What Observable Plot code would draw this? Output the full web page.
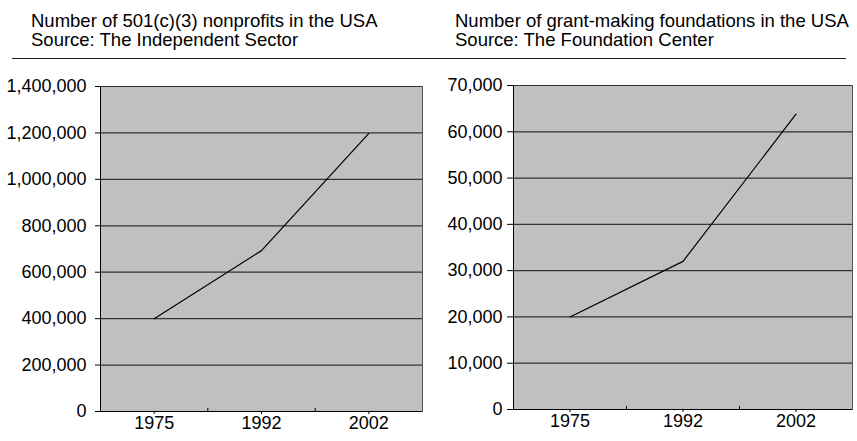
<!DOCTYPE html>
<html>
<head>
<meta charset="utf-8">
<script src="https://cdn.jsdelivr.net/npm/d3@7"></script>
<script src="https://cdn.jsdelivr.net/npm/@observablehq/plot@0.6"></script>
<style>
  html, body { margin: 0; padding: 0; background: #fff; }
  #wrap { position: relative; width: 857px; height: 441px; font-family: "Liberation Sans", Arial, sans-serif; color: #000; }
  .title { position: absolute; top: 10.5px; font-size: 18.5px; line-height: 19.5px; white-space: nowrap; }
  #rule { position: absolute; left: 12px; width: 834px; top: 58px; height: 0; border-top: 1px solid #222; }
  .chart { position: absolute; top: 70px; }
</style>
</head>
<body>
<div id="wrap">
  <div class="title" id="t1" style="left:31px"></div>
  <div class="title" id="t2" style="left:455px"></div>
  <div id="rule"></div>
  <div class="chart" id="c1" style="left:0px"></div>
  <div class="chart" id="c2" style="left:430px"></div>
</div>
<script>
// ---- data ----
const years = ["1975", "1992", "2002"];
const nonprofits = [400000, 693000, 1198000];
const foundations = [20000, 32000, 63800];
const nonprofitTicks = [0, 200000, 400000, 600000, 800000, 1000000, 1200000, 1400000];
const foundationTicks = [0, 10000, 20000, 30000, 40000, 50000, 60000, 70000];
const titles1 = ["Number of 501(c)(3) nonprofits in the USA", "Source: The Independent Sector"];
const titles2 = ["Number of grant-making foundations in the USA", "Source: The Foundation Center"];

document.getElementById("t1").innerHTML = titles1.join("<br>");
document.getElementById("t2").innerHTML = titles2.join("<br>");

function chart(values, yTicks, opts) {
  const data = years.map((y, i) => ({i, year: y, value: values[i]}));
  const H = 371;
  const innerH = H - opts.marginTop - opts.marginBottom;
  const boundaries = d3.range(years.length - 1).map(k => k + 0.5);
  return Plot.plot({
    width: opts.width,
    height: H,
    marginLeft: opts.marginLeft,
    marginRight: opts.marginRight,
    marginTop: opts.marginTop,
    marginBottom: opts.marginBottom,
    style: {fontSize: "18px", fontFamily: "'Liberation Sans', Arial, sans-serif", color: "#000", background: "transparent", overflow: "visible"},
    x: {domain: [-0.5, years.length - 0.5], axis: null},
    y: {domain: [0, yTicks[yTicks.length - 1]], axis: null},
    marks: [
      Plot.frame({fill: "#c0c0c0", stroke: "#555"}),
      Plot.ruleY(yTicks.slice(1), {stroke: "#333", strokeWidth: 1.2}),
      Plot.axisY({ticks: yTicks, tickSize: opts.tickSize, tickPadding: opts.tickPadding, tickFormat: d3.format(","), label: null}),
      Plot.axisX({ticks: d3.range(years.length), tickSize: 3, tickPadding: 2, tickFormat: i => years[i], label: null}),
      Plot.tickX(boundaries, {x: d => d, stroke: "#000", insetTop: innerH - 3}),
      Plot.ruleX([-0.5], {stroke: "#000"}),
      Plot.ruleY([0], {stroke: "#000"}),
      Plot.line(data, {x: "i", y: "value", stroke: "#000", strokeWidth: 1.2})
    ]
  });
}

document.getElementById("c1").appendChild(chart(nonprofits, nonprofitTicks,
  {width: 430, marginLeft: 100, marginRight: 8, marginTop: 16, marginBottom: 30, tickSize: 5, tickPadding: 9}));
document.getElementById("c2").appendChild(chart(foundations, foundationTicks,
  {width: 427, marginLeft: 83, marginRight: 5, marginTop: 15, marginBottom: 32, tickSize: 6, tickPadding: 5}));
</script>
</body>
</html>
